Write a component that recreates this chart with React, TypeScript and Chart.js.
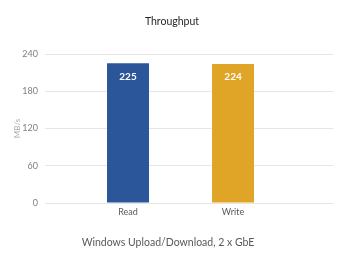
import React, { useEffect, useRef } from "react";
import { Chart, registerables } from "chart.js";

Chart.register(...registerables);

const categories = ["Read", "Write"];
const values = [225, 224];
const barColors = ["#2B579A", "#E0A526"];
const yTicks = [0, 60, 120, 180, 240];
const chartTitle = "Throughput";
const yTitle = "MB/s";
const caption = "Windows Upload/Download, 2 x GbE";

const FONT = "Lato, 'Open Sans', sans-serif";

const textPlugin = {
  id: "textPlugin",
  afterDraw(chart: any) {
    const ctx = chart.ctx;
    const area = chart.chartArea;
    ctx.save();
    // title
    ctx.fillStyle = "#262626";
    ctx.font = `10.5px ${FONT}`;
    ctx.textAlign = "center";
    ctx.textBaseline = "middle";
    ctx.fillText(chartTitle, 172, 22);
    // caption
    ctx.fillStyle = "#595959";
    ctx.font = `10.5px ${FONT}`;
    ctx.fillText(caption, 168, 243);
    // y title
    ctx.save();
    ctx.translate(17, (area.top + area.bottom) / 2);
    ctx.rotate(-Math.PI / 2);
    ctx.fillStyle = "#a6a6a6";
    ctx.font = `8px ${FONT}`;
    ctx.fillText(yTitle, 0, 0);
    ctx.restore();
    // data labels
    const meta = chart.getDatasetMeta(0);
    ctx.fillStyle = "#ffffff";
    ctx.font = `bold 10px ${FONT}`;
    meta.data.forEach((bar: any, i: number) => {
      ctx.fillText(String(values[i]), bar.x, bar.y + 13);
    });
    ctx.restore();
  },
};

export default function App() {
  const ref = useRef<HTMLCanvasElement>(null);
  useEffect(() => {
    document.body.style.margin = "0";
    const chart = new Chart(ref.current!, {
      type: "bar",
      data: {
        datasets: [
          {
            data: values.map((v, i) => ({ x: i + 1, y: v })),
            backgroundColor: barColors,
            borderColor: barColors,
            borderWidth: 0,
            barPercentage: 0.4,
            categoryPercentage: 1,
          },
        ],
      },
      options: {
        animation: false,
        responsive: false,
        layout: { padding: { left: 0, right: 17, top: 54, bottom: 0 } },
        plugins: { legend: { display: false }, tooltip: { enabled: false }, title: { display: false } },
        scales: {
          x: {
            type: "linear",
            min: 0.2095,
            max: 2.952,
            offset: false,
            bounds: "data",
            grid: { display: false, drawTicks: false },
            border: { display: false },
            afterBuildTicks: (scale: any) => {
              scale.ticks = categories.map((_, i) => ({ value: i + 1 }));
            },
            afterFit: (scale: any) => {
              scale.height = 62;
            },
            ticks: {
              callback: (v: any) => categories[Number(v) - 1] ?? "",
              color: "#595959",
              font: { family: FONT, size: 9 },
              padding: 4,
              maxRotation: 0,
              autoSkip: false,
            },
          },
          y: {
            min: 0,
            max: 240,
            grid: { color: "#e6e6e6", lineWidth: 1, drawTicks: false },
            border: { display: false },
            afterBuildTicks: (scale: any) => {
              scale.ticks = yTicks.map((v) => ({ value: v }));
            },
            afterFit: (scale: any) => {
              scale.width = 45;
            },
            ticks: {
              color: "#7f7f7f",
              font: { family: FONT, size: 9 },
              padding: 7,
            },
          },
        },
      },
      plugins: [textPlugin],
    } as any);
    return () => chart.destroy();
  }, []);
  return <canvas ref={ref} width={350} height={265} />;
}
